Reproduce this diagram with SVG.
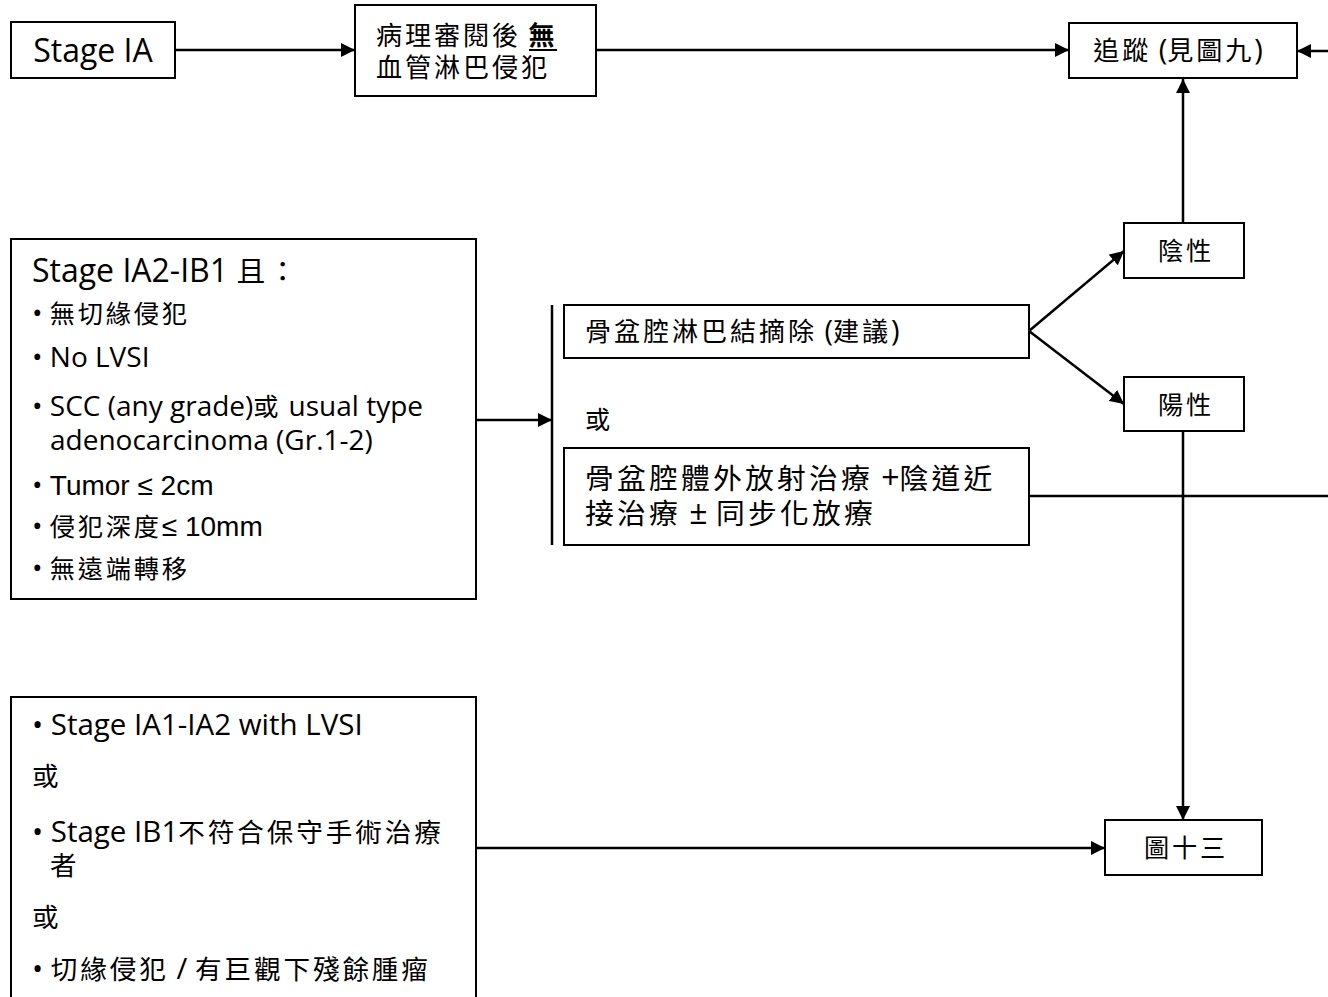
<svg xmlns="http://www.w3.org/2000/svg" width="1328" height="997" viewBox="0 0 1328 997">
<style>
.box{fill:#fff;stroke:#000;stroke-width:2}
.t{font-family:"Open Sans","Noto Sans CJK TC",sans-serif;fill:#000}
.c{font-family:"Noto Sans CJK TC",sans-serif;font-size:0.9em;letter-spacing:0.111em}
.a{font-family:"Liberation Sans","Noto Sans CJK TC",sans-serif}
.ln{stroke:#000;stroke-width:2.5;fill:none}
</style>
<defs>
<marker id="ah" viewBox="0 0 10 10" refX="10" refY="5" markerWidth="14" markerHeight="14" markerUnits="userSpaceOnUse" orient="auto">
<path d="M0,0 L10,5 L0,10 z" fill="#000"/>
</marker>
</defs>
<rect width="1328" height="997" fill="#fff"/>
<g id="connectors">
<line class="ln" x1="176" y1="50" x2="355" y2="50" marker-end="url(#ah)"/>
<line class="ln" x1="596" y1="50" x2="1069" y2="50" marker-end="url(#ah)"/>
<line class="ln" x1="1328" y1="51" x2="1297" y2="51" marker-end="url(#ah)"/>
<line class="ln" x1="1183" y1="223" x2="1183" y2="79" marker-end="url(#ah)"/>
<line class="ln" x1="1029" y1="331" x2="1124" y2="251" marker-end="url(#ah)"/>
<line class="ln" x1="1029" y1="331" x2="1124" y2="404" marker-end="url(#ah)"/>
<line class="ln" x1="476" y1="420" x2="552" y2="420" marker-end="url(#ah)"/>
<line class="ln" x1="552" y1="305" x2="552" y2="545"/>
<line class="ln" x1="1029" y1="496" x2="1328" y2="496"/>
<line class="ln" x1="1183" y1="431" x2="1183" y2="820" marker-end="url(#ah)"/>
<line class="ln" x1="476" y1="848" x2="1105" y2="848" marker-end="url(#ah)"/>
</g>
<g id="stage-ia">
<rect class="box" x="11" y="22" width="164" height="56"/>
<text class="t" x="93" y="62" font-size="32" text-anchor="middle">Stage IA</text>
</g>
<g id="pathology">
<rect class="box" x="355" y="5" width="241" height="91"/>
<text class="t" x="376" y="45" font-size="29"><tspan class="c">病理審閱後</tspan> <tspan class="c" font-weight="bold">無</tspan></text>
<line x1="529" y1="50" x2="557" y2="50" stroke="#000" stroke-width="2"/>
<text class="t" x="376" y="77" font-size="29"><tspan class="c">血管淋巴侵犯</tspan></text>
</g>
<g id="followup">
<rect class="box" x="1069" y="23" width="228" height="55"/>
<text class="t" x="1178" y="60" font-size="29" text-anchor="middle"><tspan class="c">追蹤</tspan> (<tspan class="c">見圖九</tspan>)</text>
</g>
<g id="negative">
<rect class="box" x="1124" y="223" width="120" height="55"/>
<text class="t" x="1186" y="260" font-size="28" text-anchor="middle"><tspan class="c">陰性</tspan></text>
</g>
<g id="positive">
<rect class="box" x="1124" y="377" width="120" height="54"/>
<text class="t" x="1186" y="414" font-size="28" text-anchor="middle"><tspan class="c">陽性</tspan></text>
</g>
<g id="lymph">
<rect class="box" x="564" y="305" width="465" height="53"/>
<text class="t" x="585" y="341" font-size="29"><tspan class="c">骨盆腔淋巴結摘除</tspan> (<tspan class="c">建議</tspan>)</text>
</g>
<g id="or-label">
<text class="t" x="585" y="429" font-size="28"><tspan class="c">或</tspan></text>
</g>
<g id="radiation">
<rect class="box" x="564" y="448" width="465" height="97" stroke-width="2.5"/>
<text class="t" x="585" y="489" font-size="32"><tspan class="c">骨盆腔體外放射治療</tspan> +<tspan class="c">陰道近</tspan></text>
<text class="t" x="585" y="524" font-size="32"><tspan class="c">接治療</tspan> ± <tspan class="c">同步化放療</tspan></text>
</g>
<g id="stage-ia2-ib1">
<rect class="box" x="11" y="239" width="465" height="360"/>
<text class="t" x="32" y="282" font-size="32">Stage IA2-IB1 <tspan class="c">且：</tspan></text>
<g font-size="28">
<text class="t" x="32" y="323">• <tspan class="c">無切緣侵犯</tspan></text>
<text class="t" x="32" y="367">• No LVSI</text>
<text class="t" x="32" y="416">• SCC (any grade)<tspan class="c">或</tspan> usual type</text>
<text class="t" x="50" y="450">adenocarcinoma (Gr.1-2)</text>
<text class="t" x="32" y="495">• <tspan class="a">Tumor ≤ 2cm</tspan></text>
<text class="t" x="32" y="536">• <tspan class="c">侵犯深度</tspan><tspan class="a">≤ 10mm</tspan></text>
<text class="t" x="32" y="578">• <tspan class="c">無遠端轉移</tspan></text>
</g>
</g>
<g id="stage-ia1-ib1">
<rect class="box" x="11" y="697" width="465" height="310"/>
<g font-size="29.5">
<text class="t" x="32" y="735">• Stage IA1-IA2 with LVSI</text>
<text class="t" x="32" y="786"><tspan class="c">或</tspan></text>
<text class="t" x="32" y="842">• Stage IB1<tspan class="c">不符合保守手術治療</tspan></text>
<text class="t" x="50" y="875"><tspan class="c">者</tspan></text>
<text class="t" x="32" y="927"><tspan class="c">或</tspan></text>
<text class="t" x="32" y="979">• <tspan class="c">切緣侵犯</tspan> / <tspan class="c">有巨觀下殘餘腫瘤</tspan></text>
</g>
</g>
<g id="fig13">
<rect class="box" x="1105" y="820" width="157" height="55"/>
<text class="t" x="1186" y="857" font-size="28" text-anchor="middle"><tspan class="c">圖十三</tspan></text>
</g>
</svg>
